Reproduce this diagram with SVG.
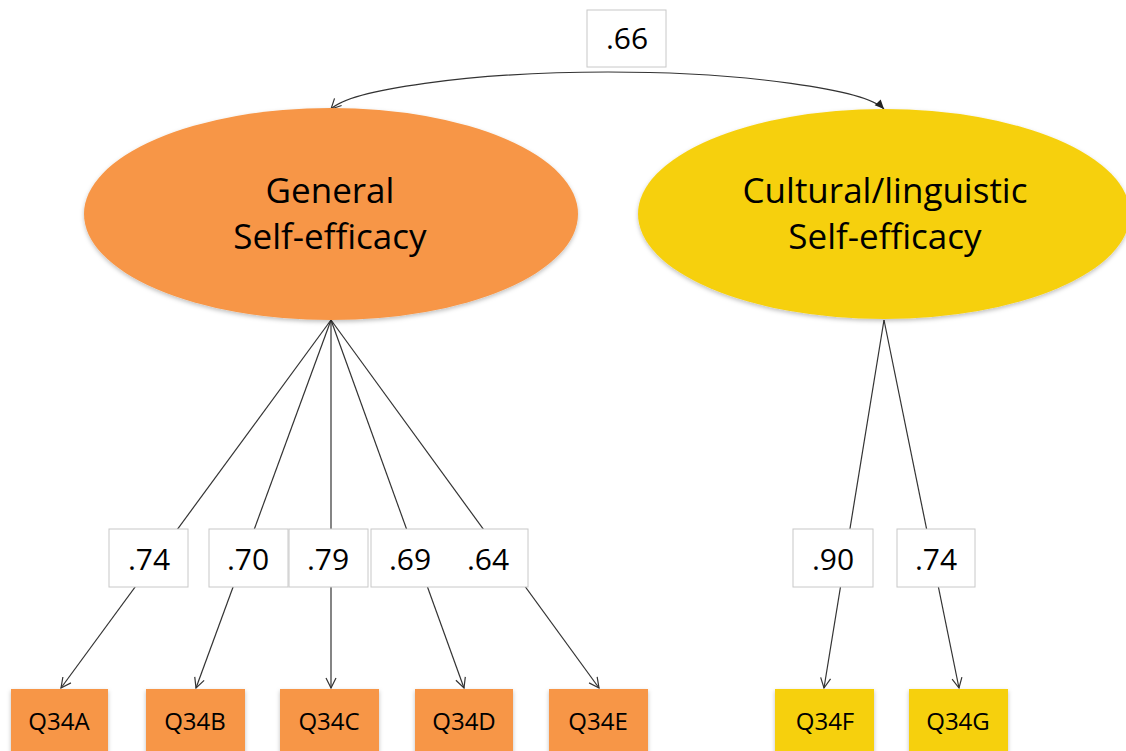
<svg xmlns="http://www.w3.org/2000/svg" width="1126" height="751" viewBox="0 0 1126 751">
<style>
.lbl{fill:#fff;stroke:#c8c8c8;stroke-width:1}
.num{font-family:"Open Sans","Noto Sans",sans-serif;font-size:30px;fill:#000;text-anchor:middle}
.big{font-family:"Open Sans","Noto Sans",sans-serif;font-size:35px;fill:#000;text-anchor:middle}
.small{font-family:"Open Sans","Noto Sans",sans-serif;font-size:24px;fill:#000;text-anchor:middle}
.con{stroke:#333;stroke-width:1.2;fill:none}
.org{fill:#F79646}
.yel{fill:#F6D010}
</style>
<defs>
<marker id="open" viewBox="0 0 12 12" refX="11" refY="6" markerWidth="12" markerHeight="12" markerUnits="userSpaceOnUse" orient="auto">
<path d="M1,1 L11,6 L1,11" fill="none" stroke="#333" stroke-width="1.2"/>
</marker>
<marker id="fill" viewBox="0 0 12 12" refX="11" refY="6" markerWidth="11" markerHeight="11" markerUnits="userSpaceOnUse" orient="auto">
<path d="M1,1.5 L11,6 L1,10.5 z" fill="#222"/>
</marker>
<filter id="sh" x="-10%" y="-10%" width="120%" height="130%">
<feDropShadow dx="0" dy="2" stdDeviation="2" flood-color="#000" flood-opacity="0.25"/>
</filter>
</defs>

<g id="connectors">
<path class="con" d="M608,72 C470,72 350,90 331,109" marker-end="url(#open)"/>
<path class="con" d="M608,72 C746,72 866,90 884,109" marker-end="url(#fill)"/>
<line class="con" x1="331" y1="320" x2="61" y2="688" marker-end="url(#open)"/>
<line class="con" x1="331" y1="320" x2="196" y2="688" marker-end="url(#open)"/>
<line class="con" x1="331" y1="320" x2="331" y2="688" marker-end="url(#open)"/>
<line class="con" x1="331" y1="320" x2="464" y2="688" marker-end="url(#open)"/>
<line class="con" x1="331" y1="320" x2="599" y2="688" marker-end="url(#open)"/>
<line class="con" x1="884" y1="320" x2="824" y2="688" marker-end="url(#open)"/>
<line class="con" x1="884" y1="320" x2="959" y2="688" marker-end="url(#open)"/>
</g>

<g id="general">
<ellipse class="org" cx="331" cy="214" rx="247" ry="106" filter="url(#sh)"/>
<text class="big" x="330" y="203">General</text>
<text class="big" x="330" y="249">Self-efficacy</text>
</g>
<g id="cultural">
<ellipse class="yel" cx="884" cy="214" rx="246" ry="105" filter="url(#sh)"/>
<text class="big" x="885" y="203">Cultural/linguistic</text>
<text class="big" x="885" y="249">Self-efficacy</text>
</g>

<g id="lbl-66"><rect class="lbl" x="587" y="10" width="79" height="57"/><text class="num" x="627" y="49">.66</text></g>
<g id="lbl-74a"><rect class="lbl" x="109" y="529" width="79" height="58"/><text class="num" x="149" y="570">.74</text></g>
<g id="lbl-70"><rect class="lbl" x="209" y="529" width="79" height="58"/><text class="num" x="248" y="570">.70</text></g>
<g id="lbl-79"><rect class="lbl" x="289" y="529" width="79" height="58"/><text class="num" x="328" y="570">.79</text></g>
<g id="lbl-69-64"><rect class="lbl" x="371" y="529" width="157" height="58"/><text class="num" x="410" y="570">.69</text><text class="num" x="488" y="570">.64</text></g>
<g id="lbl-90"><rect class="lbl" x="793" y="529" width="80" height="58"/><text class="num" x="833" y="570">.90</text></g>
<g id="lbl-74b"><rect class="lbl" x="897" y="529" width="78" height="58"/><text class="num" x="936" y="570">.74</text></g>

<g id="q34a"><rect class="org" x="11" y="689" width="97" height="70" filter="url(#sh)"/><text class="small" x="59" y="730">Q34A</text></g>
<g id="q34b"><rect class="org" x="146" y="689" width="99" height="70" filter="url(#sh)"/><text class="small" x="195" y="730">Q34B</text></g>
<g id="q34c"><rect class="org" x="280" y="689" width="99" height="70" filter="url(#sh)"/><text class="small" x="329" y="730">Q34C</text></g>
<g id="q34d"><rect class="org" x="415" y="689" width="98" height="70" filter="url(#sh)"/><text class="small" x="464" y="730">Q34D</text></g>
<g id="q34e"><rect class="org" x="549" y="689" width="99" height="70" filter="url(#sh)"/><text class="small" x="598" y="730">Q34E</text></g>
<g id="q34f"><rect class="yel" x="775" y="689" width="99" height="70" filter="url(#sh)"/><text class="small" x="825" y="730">Q34F</text></g>
<g id="q34g"><rect class="yel" x="909" y="689" width="99" height="70" filter="url(#sh)"/><text class="small" x="958" y="730">Q34G</text></g>
</svg>
